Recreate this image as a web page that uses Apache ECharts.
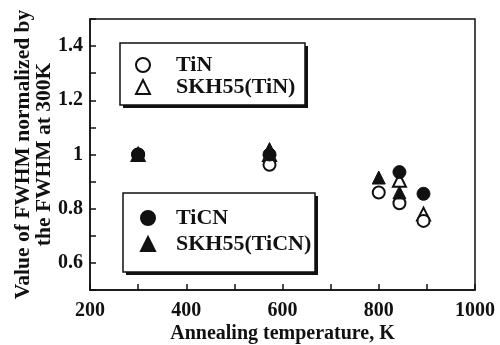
<!DOCTYPE html>
<html>
<head>
<meta charset="utf-8">
<script src="https://cdn.jsdelivr.net/npm/echarts@6/dist/echarts.min.js"></script>
<style>
  html, body { margin: 0; padding: 0; background: #fff; }
  #chart { width: 500px; height: 345px; }
</style>
</head>
<body>
<div id="chart"></div>
<script>
// values
const tinTemps = [300, 573, 800, 843, 893];
const tinValues = [1.0, 0.962, 0.86, 0.82, 0.755];
const skhTinTemps = [300, 573, 843, 893];
const skhTinValues = [1.0, 1.0, 0.905, 0.78];
const ticnTemps = [300, 573, 843, 893];
const ticnValues = [1.0, 1.0, 0.935, 0.855];
const skhTicnTemps = [300, 573, 800, 843];
const skhTicnValues = [1.0, 1.02, 0.915, 0.86];

const font = "Liberation Serif";
const ink = "#111";

const pairs = (xs, ys) => xs.map((x, i) => [x, ys[i]]);

const openStyle = { color: "#fff", borderColor: ink, borderWidth: 2, opacity: 1 };
const fillStyle = { color: ink, borderColor: ink, borderWidth: 1, opacity: 1 };

// framed box with a hard drop shadow, drawn behind each legend
const shadowBox = (x, y, w, h) => [
  { type: "rect", z: 1, shape: { x: x + 3, y: y + 3, width: w, height: h }, style: { fill: ink } },
  { type: "rect", z: 2, shape: { x: x, y: y, width: w, height: h }, style: { fill: "#fff", stroke: ink, lineWidth: 1.5 } },
];

const chart = echarts.init(document.getElementById("chart"));

const legendBase = {
  orient: "vertical",
  padding: 0,
  itemWidth: 14,
  itemHeight: 14,
  selectedMode: false,
  z: 10,
};
const legendText = (pad) => ({
  fontFamily: font,
  fontWeight: "bold",
  fontSize: 22,
  color: ink,
  lineHeight: 22,
  padding: [0, 0, 0, pad],
});

chart.setOption({
  animation: false,
  grid: {
    left: 90,
    right: 25,
    top: 19,
    bottom: 55,
    outerBoundsMode: "none",
    containLabel: false,
    show: true,
    borderColor: ink,
    borderWidth: 1.5,
  },
  graphic: [].concat(shadowBox(120, 43, 185, 62), shadowBox(123, 193, 192, 79)),
  legend: [
    Object.assign({}, legendBase, {
      left: 135,
      top: 54,
      itemGap: 0,
      textStyle: legendText(21),
      data: ["TiN", "SKH55(TiN)"],
    }),
    Object.assign({}, legendBase, {
      left: 140,
      top: 207,
      itemGap: 4,
      textStyle: legendText(16),
      data: ["TiCN", "SKH55(TiCN)"],
    }),
  ],
  xAxis: {
    type: "value",
    min: 200,
    max: 1000,
    interval: 100,
    name: "Annealing temperature, K",
    nameLocation: "middle",
    nameGap: 34,
    nameMoveOverlap: false,
    nameTextStyle: { fontFamily: font, fontWeight: "bold", fontSize: 20, color: ink },
    axisLine: { show: true, lineStyle: { color: ink, width: 1.5 } },
    axisTick: { show: true, inside: true, length: 6, lineStyle: { color: ink, width: 1.5 } },
    axisLabel: {
      fontFamily: font,
      fontWeight: "bold",
      fontSize: 20,
      color: ink,
      margin: 11,
      formatter: (v) => (v % 200 === 0 ? String(v) : ""),
    },
    splitLine: { show: false },
  },
  yAxis: {
    type: "value",
    min: 0.5,
    max: 1.5,
    interval: 0.1,
    name: "Value of FWHM normalized by\nthe FWHM at 300K",
    nameLocation: "middle",
    nameGap: 35,
    nameMoveOverlap: false,
    nameTextStyle: {
      fontFamily: font,
      fontWeight: "bold",
      fontSize: 21.5,
      lineHeight: 21,
      color: ink,
    },
    axisLine: { show: true, lineStyle: { color: ink, width: 1.5 } },
    axisTick: { show: true, inside: true, length: 6, lineStyle: { color: ink, width: 1.5 } },
    axisLabel: {
      fontFamily: font,
      fontWeight: "bold",
      fontSize: 20,
      color: ink,
      margin: 7,
      formatter: (v) => {
        const t = Math.round(v * 10);
        return t % 2 === 0 && t > 5 && t < 15 ? String(t / 10) : "";
      },
    },
    splitLine: { show: false },
  },
  series: [
    {
      name: "SKH55(TiN)",
      type: "scatter",
      symbol: "triangle",
      symbolSize: 13,
      itemStyle: openStyle,
      data: pairs(skhTinTemps, skhTinValues),
    },
    {
      name: "TiN",
      type: "scatter",
      symbol: "circle",
      symbolSize: 12,
      itemStyle: openStyle,
      data: pairs(tinTemps, tinValues),
    },
    {
      name: "SKH55(TiCN)",
      type: "scatter",
      symbol: "triangle",
      symbolSize: 13,
      itemStyle: fillStyle,
      data: pairs(skhTicnTemps, skhTicnValues),
    },
    {
      name: "TiCN",
      type: "scatter",
      symbol: "circle",
      symbolSize: 13,
      itemStyle: fillStyle,
      data: pairs(ticnTemps, ticnValues),
    },
  ],
});
</script>
</body>
</html>
